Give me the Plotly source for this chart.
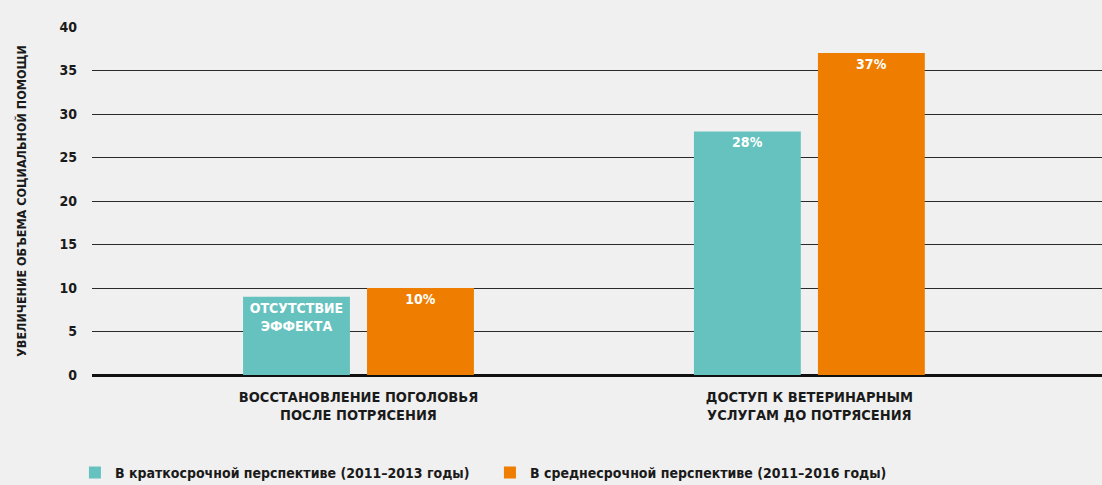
import plotly.graph_objects as go

categories = [
    "ВОССТАНОВЛЕНИЕ ПОГОЛОВЬЯ<br>ПОСЛЕ ПОТРЯСЕНИЯ",
    "ДОСТУП К ВЕТЕРИНАРНЫМ<br>УСЛУГАМ ДО ПОТРЯСЕНИЯ",
]
short_term = [9, 28]
short_term_labels = ["ОТСУТСТВИЕ<br>ЭФФЕКТА", "28%"]
medium_term = [10, 37]
medium_term_labels = ["10%", "37%"]
series_names = [
    "В краткосрочной перспективе (2011–2013 годы)",
    "В среднесрочной перспективе (2011–2016 годы)",
]
y_ticks = [0, 5, 10, 15, 20, 25, 30, 35, 40]

FONT = "DejaVu Sans Condensed"
TEAL = "#66c2be"
ORANGE = "#ef7d00"
BG = "#f0f0f0"

fig = go.Figure()
for vals, labels, name, color in [
    (short_term, short_term_labels, series_names[0], TEAL),
    (medium_term, medium_term_labels, series_names[1], ORANGE),
]:
    fig.add_trace(go.Bar(
        x=categories, y=vals, name=name, marker_color=color,
        marker_line_width=0,
        text=labels, textposition="inside", insidetextanchor="end",
        textangle=0,
        insidetextfont=dict(family=FONT, size=14, color="white", weight="bold"),
        hoverinfo="skip",
    ))

fig.update_layout(
    width=1102, height=485,
    margin=dict(l=92, r=0, t=27, b=110),
    paper_bgcolor=BG, plot_bgcolor=BG,
    barmode="group", bargap=0.45, bargroupgap=0.138,
    font=dict(family=FONT, color="#1a1a1a", size=13),
    showlegend=True,
    legend=dict(
        orientation="h",
        xref="container", x=0.068, xanchor="left",
        yref="container", y=0.058, yanchor="top",
        entrywidth=370,
        font=dict(family=FONT, size=14, color="#1a1a1a", weight="bold"),
        bgcolor="rgba(0,0,0,0)", itemclick=False, traceorder="normal",
    ),
    uniformtext=dict(minsize=12, mode="show"),
)
fig.update_xaxes(
    type="category", range=[-0.591, 1.649], automargin=False,
    showgrid=False, showline=False, ticks="",
    tickfont=dict(family=FONT, size=14.5, color="#1a1a1a", weight="bold"),
    ticklabelstandoff=11,
)
fig.update_yaxes(
    range=[0, 40], tickvals=y_ticks, showgrid=True, automargin=False,
    gridcolor="#2a2a2a", gridwidth=1,
    zeroline=True, zerolinecolor="#111111", zerolinewidth=2.5,
    showline=False, ticks="", ticklabelstandoff=14,
    tickfont=dict(family=FONT, size=14, color="#1a1a1a", weight="bold"),
    title=dict(text="УВЕЛИЧЕНИЕ ОБЪЕМА СОЦИАЛЬНОЙ ПОМОЩИ",
               font=dict(family=FONT, size=12.5, color="#1a1a1a", weight="bold"),
               standoff=30),
)

fig.write_html("out.html")
